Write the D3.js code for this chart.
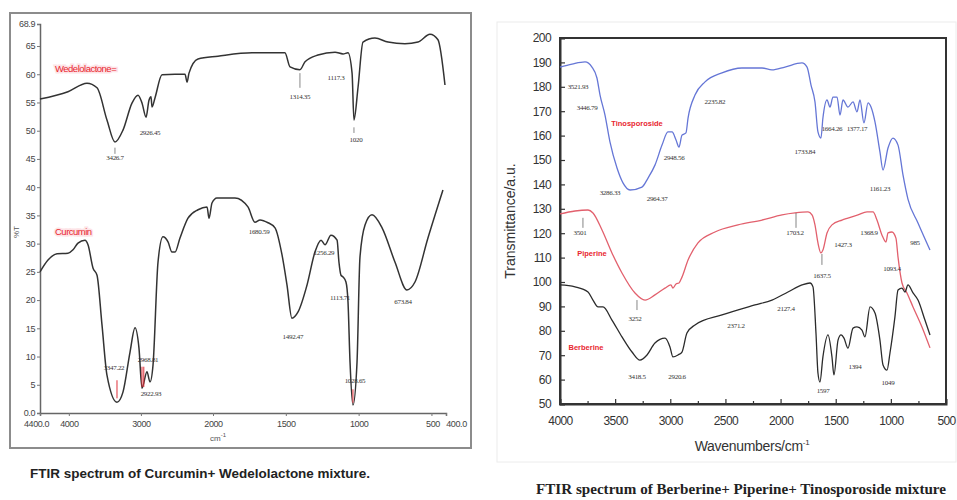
<!DOCTYPE html>
<html>
<head>
<meta charset="utf-8">
<script src="https://cdn.jsdelivr.net/npm/d3@7"></script>
<style>
  body { margin: 0; background: #fff; }
  svg { display: block; font-family: "Liberation Sans", Arial, sans-serif; }
</style>
</head>
<body>
<svg id="chart" width="957" height="500"></svg>
<script>
// ---- left chart: Curcumin + Wedelolactone (wavenumber, %T) ----
const wedelolactone = [[4400,55.6],[4012,56.9],[3748,58.4],[3609,57.6],[3471,51.9],[3360,48.0],[3249,50.1],[3124,54.9],[3040,56.3],[2985,54.9],[2929,52.4],[2888,55.4],[2860,56.0],[2846,54.2],[2805,55.8],[2707,59.9],[2527,60.0],[2388,60.0],[2360,58.6],[2333,60.2],[2208,62.7],[1966,63.2],[1732,63.8],[1574,63.8],[1506,63.8],[1471,61.3],[1403,60.8],[1368,62.2],[1279,63.4],[1162,63.9],[1107,63.6],[1073,63.8],[1045,60.2],[1032,51.9],[1004,57.7],[970,65.7],[888,66.4],[798,65.7],[682,65.4],[592,65.7],[510,67.1],[455,66.1],[407,58.1]];
const curcumin = [[4400,25.0],[4289,27.1],[4164,28.2],[4012,28.3],[3942,28.9],[3873,30.1],[3776,30.6],[3734,29.8],[3665,25.7],[3609,24.4],[3540,15.6],[3471,6.7],[3332,1.9],[3249,3.7],[3151,10.8],[3082,15.1],[3027,11.5],[2985,4.4],[2916,7.3],[2874,5.5],[2832,8.5],[2763,26.7],[2694,31.2],[2624,30.3],[2569,28.5],[2527,28.5],[2458,31.0],[2347,34.5],[2208,36.0],[2083,36.5],[2055,34.5],[2014,37.2],[1973,38.1],[1849,38.1],[1760,36.5],[1712,33.8],[1677,34.2],[1622,33.7],[1574,32.8],[1526,28.0],[1492,22.7],[1458,16.8],[1416,17.9],[1354,22.7],[1300,28.5],[1258,30.6],[1231,29.8],[1190,31.5],[1148,30.6],[1135,26.7],[1121,24.4],[1107,24.1],[1087,23.2],[1073,19.7],[1059,9.0],[1039,1.4],[1011,9.0],[991,27.5],[956,33.3],[908,35.1],[839,32.8],[750,26.7],[668,21.8],[613,23.2],[524,31.0],[421,39.5]];
const leftXTicks = [4400, 4000, 3000, 2000, 1500, 1000, 500, 400];
const leftYTicks = [0, 5, 10, 15, 20, 25, 30, 35, 40, 45, 50, 55, 60, 65, 68.9];
const leftPeaks = [
  ["3426.7", 3360, 45.2], ["2926.45", 2874, 49.6], ["1314.35", 1403, 56.0], ["1117.3", 1155, 59.5], ["1020", 1018, 48.5],
  ["3347.22", 3374, 8.0], ["2968.81", 2902, 9.4], ["2922.93", 2860, 3.5], ["1680.59", 1684, 32.1], ["1492.47", 1451, 13.5],
  ["1256.29", 1238, 28.5], ["1113.71", 1128, 20.5], ["1028.65", 1025, 5.7], ["673.84", 695, 19.8]
];
const leftNames = [["Wedelolactone=", 4192, 60.9], ["Curcumin", 4192, 32.1]];
const leftLeaders = [[3360, 47.0, 45.9, "#888"], [1403, 60.2, 57.6, "#888"], [1032, 50.6, 49.6, "#888"], [3332, 5.8, 2.6, "#e0303a"], [2985, 8.2, 4.6, "#e0303a"], [2960, 8.2, 4.6, "#e0303a"], [1039, 4.2, 1.8, "#e0303a"]];

// ---- right chart: Berberine + Piperine + Tinosporoside ----
const tinosporoside = [[4000,188.1],[3891,189.3],[3773,190.2],[3710,188.1],[3665,183.6],[3637,176.6],[3592,168.4],[3547,157.4],[3483,146.7],[3429,140.6],[3365,137.7],[3257,138.9],[3202,142.6],[3139,147.9],[3075,156.1],[3021,161.5],[2984,161.5],[2948,158.2],[2921,155.3],[2894,160.2],[2858,161.1],[2839,167.2],[2776,176.6],[2685,182.0],[2531,185.7],[2350,187.7],[2168,187.7],[2078,186.9],[1960,188.1],[1806,189.8],[1760,188.1],[1724,180.7],[1688,173.8],[1661,161.5],[1634,159.0],[1616,167.2],[1579,174.6],[1552,171.7],[1525,175.8],[1488,175.8],[1461,168.4],[1434,174.6],[1389,171.7],[1343,173.8],[1307,169.7],[1280,174.6],[1244,165.2],[1207,173.4],[1180,171.7],[1144,165.6],[1099,153.3],[1071,145.9],[1026,154.9],[981,159.0],[935,156.1],[890,143.9],[845,134.0],[754,124.2],[645,113.1]];
const piperine = [[4000,127.9],[3864,129.1],[3746,129.5],[3701,128.3],[3619,121.3],[3529,111.9],[3438,103.7],[3320,95.5],[3229,92.6],[3139,94.7],[3048,97.5],[2994,98.8],[2976,97.5],[2948,99.2],[2921,99.6],[2894,102.0],[2839,109.0],[2749,116.0],[2595,120.5],[2386,123.4],[2168,125.4],[1987,127.5],[1869,128.3],[1751,128.7],[1715,127.5],[1688,123.4],[1661,116.0],[1634,111.9],[1616,113.1],[1579,120.1],[1534,123.4],[1443,125.4],[1389,126.2],[1298,127.5],[1216,128.7],[1162,128.7],[1126,125.4],[1081,119.3],[1044,116.4],[1026,120.1],[990,120.5],[954,118.0],[935,110.2],[899,99.6],[854,95.5],[799,89.8],[718,81.6],[645,73.0]];
const berberine = [[4000,98.8],[3864,98.0],[3746,95.9],[3701,92.6],[3655,89.8],[3610,89.8],[3529,84.4],[3438,77.5],[3347,71.3],[3275,68.0],[3211,70.1],[3139,75.0],[3048,77.0],[3003,73.4],[2976,69.3],[2930,70.1],[2894,71.3],[2849,79.1],[2776,82.4],[2531,86.5],[2232,90.6],[2078,92.6],[1933,95.9],[1806,98.8],[1733,99.6],[1706,98.0],[1679,79.1],[1661,62.7],[1643,59.0],[1616,69.3],[1570,78.3],[1534,69.3],[1516,61.9],[1479,76.2],[1452,78.3],[1425,77.0],[1389,72.9],[1343,81.1],[1307,81.6],[1262,80.3],[1235,77.5],[1189,89.8],[1144,87.3],[1099,76.2],[1071,66.0],[1035,63.9],[1008,70.9],[963,85.7],[935,96.7],[899,97.5],[872,95.9],[845,98.8],[799,95.5],[754,92.6],[691,84.4],[645,78.3]];
const rightXTicks = [4000, 3500, 3000, 2500, 2000, 1500, 1000, 500];
const rightXMinor = [3750, 3250, 2750, 2250, 1750, 1250, 750];
const rightYTicks = d3.range(50, 201, 10);
const rightPeaks = [
  ["3521.93", 3837, 179.9], ["3446.79", 3755, 171.7], ["3286.33", 3547, 136.5], ["2964.37", 3120, 134.4], ["2948.56", 2966, 151.2],
  ["2235.82", 2595, 173.8], ["1733.84", 1779, 153.3], ["1664.26", 1534, 162.7], ["1377.17", 1307, 162.7], ["1161.23", 1099, 138.5],
  ["985", 781, 116.0], ["3501", 3819, 120.1], ["3252", 3320, 85.2], ["1703.2", 1869, 120.1], ["1637.5", 1624, 102.5],
  ["1427.3", 1434, 115.2], ["1368.9", 1198, 120.1], ["1093.4", 990, 105.7], ["3418.5", 3302, 61.1], ["2920.6", 2939, 61.1],
  ["2371.2", 2404, 82.0], ["2127.4", 1951, 89.3], ["1597", 1615, 55.7], ["1394", 1325, 65.2], ["1049", 1026, 58.6]
];
const rightNames = [["Tinosporoside", 3302, 165.2], ["Piperine", 3710, 111.9], ["Berberine", 3764, 73.4]];
const rightLeaders = [[3792, 126.3, 122.2], [3302, 92.6, 88.5], [1860, 128.3, 122.2], [1625, 111.5, 107.0]];

const svg = d3.select("#chart");

// ----- left chart -----
const lx = d3.scaleLinear().domain([4400, 2000, 400]).range([40, 213, 446]);
const ly = d3.scaleLinear().domain([0, 68.9]).range([413, 24]);

svg.append("rect").attr("x", 10).attr("y", 13).attr("width", 461).attr("height", 435)
  .attr("fill", "none").attr("stroke", "#8c8c8c").attr("stroke-width", 2);

const lyAxis = svg.append("g").attr("transform", "translate(40,0)")
  .call(d3.axisLeft(ly).tickValues(leftYTicks).tickSize(3).tickPadding(2)
    .tickFormat(d => d === 0 ? "0.0" : d === 68.9 ? "68.9" : d));
const lxAxis = svg.append("g").attr("transform", "translate(0,413)")
  .call(d3.axisBottom(lx).tickValues(leftXTicks).tickSize(3).tickPadding(5)
    .tickFormat(d => d === 4400 ? "4400.0" : d === 400 ? "400.0" : d));
[lyAxis, lxAxis].forEach(g => {
  g.select(".domain").attr("stroke", "#666").attr("stroke-width", 1.5);
  g.selectAll(".tick line").attr("stroke", "#777");
  g.selectAll("text").attr("fill", "#444").attr("font-size", 9).attr("letter-spacing", -0.4);
});
lxAxis.selectAll(".tick text").attr("dx", d => d === 4400 ? -4 : d === 500 ? 1 : d === 400 ? 10 : 0);

svg.append("text").attr("transform", "translate(19,232) rotate(-90)").attr("text-anchor", "middle")
  .attr("font-size", 8).attr("fill", "#555").text("%T");
const lxl = svg.append("text").attr("x", 218).attr("y", 441).attr("text-anchor", "middle")
  .attr("font-size", 8).attr("fill", "#555").text("cm");
lxl.append("tspan").attr("dy", -4).attr("font-size", 6).text("-1");

const leftLine = d3.line().x(d => lx(d[0])).y(d => ly(d[1])).curve(d3.curveMonotoneX);
[wedelolactone, curcumin].forEach(s => {
  svg.append("path").datum(s).attr("d", leftLine).attr("fill", "none")
    .attr("stroke", "#333").attr("stroke-width", 1.5).attr("stroke-linejoin", "round");
});

svg.append("g").selectAll("line").data(leftLeaders).join("line")
  .attr("x1", d => lx(d[0])).attr("x2", d => lx(d[0]))
  .attr("y1", d => ly(d[1])).attr("y2", d => ly(d[2]))
  .attr("stroke", d => d[3]).attr("stroke-width", 1);

svg.append("g").selectAll("text").data(leftPeaks).join("text")
  .attr("x", d => lx(d[1])).attr("y", d => ly(d[2])).attr("dy", "0.35em")
  .attr("text-anchor", "middle").attr("font-size", 7).attr("letter-spacing", -0.3)
  .attr("font-family", "'Liberation Serif', serif").attr("fill", "#333").text(d => d[0]);

svg.append("g").selectAll("text").data(leftNames).join("text")
  .attr("x", d => lx(d[1])).attr("y", d => ly(d[2])).attr("dy", "0.35em")
  .attr("font-size", 9.5).attr("letter-spacing", -0.5).attr("fill", "#e8262f")
  .attr("stroke", "#fde3e6").attr("stroke-width", 3).attr("paint-order", "stroke")
  .text(d => d[0]);

svg.append("text").attr("x", 30).attr("y", 478).attr("font-size", 13.5).attr("font-weight", "bold")
  .attr("fill", "#222").attr("textLength", 340).attr("lengthAdjust", "spacingAndGlyphs")
  .text("FTIR spectrum of Curcumin+ Wedelolactone mixture.");

// ----- right chart -----
const rx = d3.scaleLinear().domain([4000, 500]).range([560, 946]);
const ry = d3.scaleLinear().domain([50, 200]).range([404, 38]);

svg.append("rect").attr("x", 497).attr("y", 22).attr("width", 459).attr("height", 440)
  .attr("fill", "none").attr("stroke", "#ececec").attr("stroke-width", 1);

const ryAxis = svg.append("g").attr("transform", "translate(560,0)")
  .call(d3.axisLeft(ry).tickValues(rightYTicks).tickSize(-5).tickPadding(9).tickFormat(d => d));
const rxAxis = svg.append("g").attr("transform", "translate(0,404)")
  .call(d3.axisBottom(rx).tickValues(rightXTicks).tickSize(-5).tickPadding(12).tickFormat(d => d));
const rxMinor = svg.append("g").attr("transform", "translate(0,404)")
  .call(d3.axisBottom(rx).tickValues(rightXMinor).tickSize(-3).tickFormat(""));
rxMinor.select(".domain").remove();
[ryAxis, rxAxis, rxMinor].forEach(g => {
  g.select(".domain").attr("stroke", "#333").attr("stroke-width", 2);
  g.selectAll(".tick line").attr("stroke", "#333").attr("stroke-width", 1.2);
  g.selectAll("text").attr("fill", "#333").attr("font-size", 12).attr("letter-spacing", -0.6);
});
svg.append("rect").attr("x", 560).attr("y", 38).attr("width", 386).attr("height", 366)
  .attr("fill", "none").attr("stroke", "#333").attr("stroke-width", 2);

svg.append("text").attr("transform", "translate(515,221) rotate(-90)").attr("text-anchor", "middle")
  .attr("font-size", 14).attr("fill", "#333").text("Transmittance/a.u.");
const rxl = svg.append("text").attr("x", 752).attr("y", 451).attr("text-anchor", "middle")
  .attr("font-size", 14).attr("fill", "#333").attr("letter-spacing", -0.3).text("Wavenumbers/cm");
rxl.append("tspan").attr("dy", -6).attr("font-size", 8).text("-1");

const rightLine = d3.line().x(d => rx(d[0])).y(d => ry(d[1])).curve(d3.curveMonotoneX);
[[tinosporoside, "#6576d6"], [piperine, "#e2606d"], [berberine, "#2b2b2b"]].forEach(([s, c]) => {
  svg.append("path").datum(s).attr("d", rightLine).attr("fill", "none")
    .attr("stroke", c).attr("stroke-width", 1.3).attr("stroke-linejoin", "round");
});

svg.append("g").selectAll("line").data(rightLeaders).join("line")
  .attr("x1", d => rx(d[0])).attr("x2", d => rx(d[0]))
  .attr("y1", d => ry(d[1])).attr("y2", d => ry(d[2]))
  .attr("stroke", "#666").attr("stroke-width", 0.8);

svg.append("g").selectAll("text").data(rightPeaks).join("text")
  .attr("x", d => rx(d[1])).attr("y", d => ry(d[2])).attr("dy", "0.35em")
  .attr("text-anchor", "middle").attr("font-size", 7).attr("letter-spacing", -0.3)
  .attr("font-family", "'Liberation Serif', serif").attr("fill", "#333").text(d => d[0]);

svg.append("g").selectAll("text").data(rightNames).join("text")
  .attr("x", d => rx(d[1])).attr("y", d => ry(d[2])).attr("dy", "0.35em")
  .attr("text-anchor", "middle").attr("font-size", 7.5).attr("font-weight", "bold")
  .attr("fill", "#e8262f").text(d => d[0]);

svg.append("text").attr("x", 536).attr("y", 494)
  .attr("font-family", "'Liberation Serif', serif").attr("font-size", 14).attr("font-weight", "bold")
  .attr("fill", "#222").attr("textLength", 410).attr("lengthAdjust", "spacingAndGlyphs")
  .text("FTIR spectrum of Berberine+ Piperine+ Tinosporoside mixture");
</script>
</body>
</html>
